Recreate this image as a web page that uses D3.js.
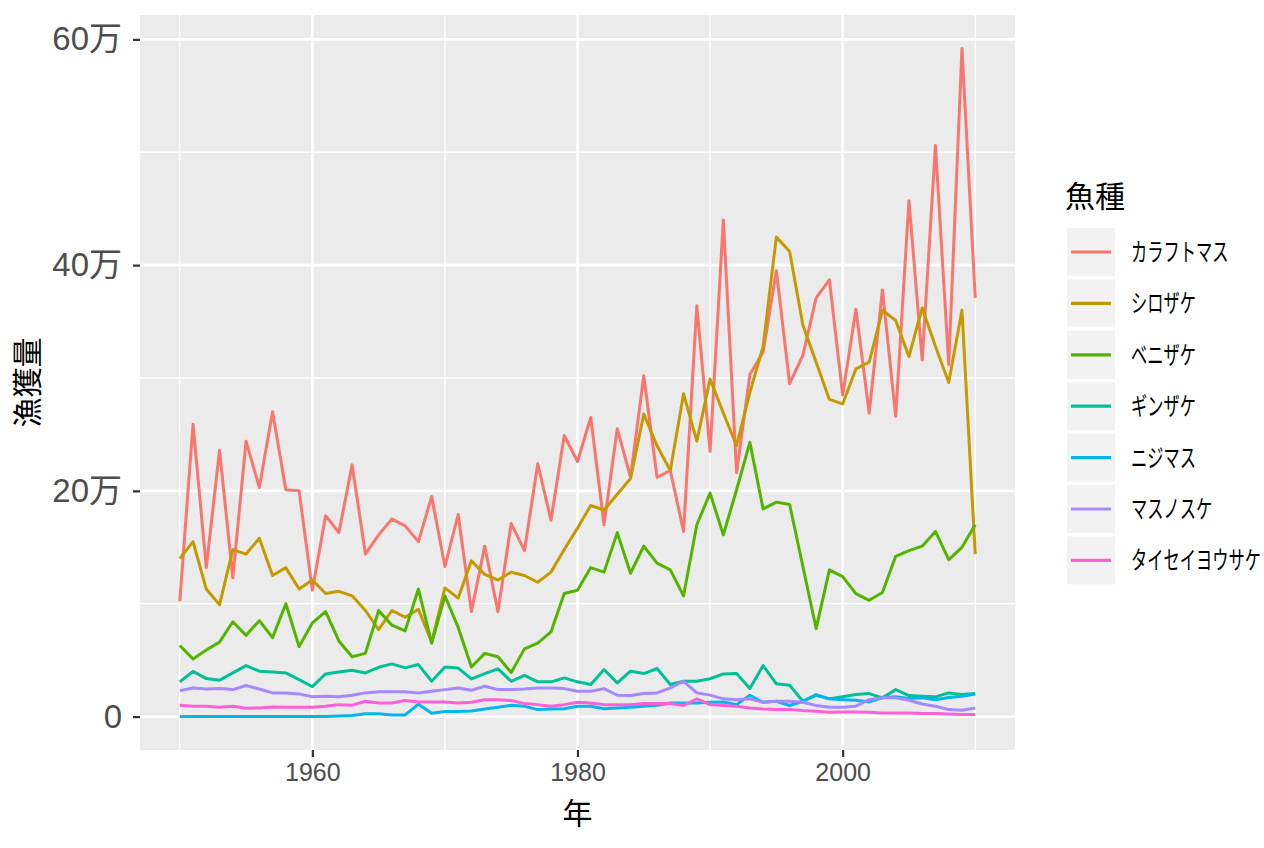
<!DOCTYPE html>
<html>
<head>
<meta charset="utf-8">
<script src="https://cdn.jsdelivr.net/npm/d3@7"></script>
<style>
  html, body { margin: 0; padding: 0; background: #fff; }
  svg { display: block; }
</style>
</head>
<body>
<svg id="chart"></svg>
<script>
// data (万尾), 1950-2010
const years = d3.range(1950, 2011);
const species = ['カラフトマス', 'シロザケ', 'ベニザケ', 'ギンザケ', 'ニジマス', 'マスノスケ', 'タイセイヨウサケ'];
const colors = ['#F8766D', '#C49A00', '#53B400', '#00C094', '#00B6EB', '#A58AFF', '#FB61D7'];

const karafuto = [
  10.2, 25.9, 13.2, 23.6, 12.3, 24.4, 20.3, 27.0, 20.1, 20.0,
  11.2, 17.8, 16.3, 22.3, 14.4, 16.1, 17.5, 16.9, 15.5, 19.5,
  13.3, 17.9, 9.3, 15.1, 9.3, 17.1, 14.7, 22.4, 17.4, 24.9,
  22.6, 26.5, 17.0, 25.5, 21.2, 30.2, 21.2, 21.8, 16.4, 36.4,
  23.5, 44.0, 21.6, 30.3, 32.3, 39.5, 29.5, 32.0, 37.1, 38.7,
  28.5, 36.1, 26.9, 37.8, 26.6, 45.7, 31.6, 50.6, 31.2, 59.2,
  37.1
];
const shirozake = [
  14.0, 15.5, 11.3, 9.9, 14.8, 14.4, 15.8, 12.5, 13.2, 11.3,
  12.1, 10.9, 11.1, 10.7, 9.4, 7.7, 9.4, 8.8, 9.5, 6.6,
  11.4, 10.5, 13.8, 12.6, 12.1, 12.8, 12.5, 11.9, 12.8, 14.8,
  16.7, 18.7, 18.3, 19.7, 21.1, 26.8, 24.0, 21.8, 28.6, 24.4,
  29.9, 26.9, 24.0, 28.7, 32.8, 42.5, 41.2, 34.7, 31.4, 28.1,
  27.7, 30.8, 31.4, 36.0, 35.1, 31.9, 36.2, 32.8, 29.6, 36.0,
  14.4
];
const benizake = [
  6.3, 5.1, 5.9, 6.6, 8.4, 7.2, 8.5, 7.0, 10.0, 6.2,
  8.3, 9.3, 6.7, 5.3, 5.6, 9.4, 8.1, 7.6, 11.3, 6.5,
  10.7, 7.9, 4.4, 5.6, 5.3, 3.9, 6.0, 6.5, 7.5, 10.9,
  11.2, 13.2, 12.8, 16.3, 12.7, 15.1, 13.6, 13.0, 10.7, 17.0,
  19.8, 16.1, 20.1, 24.3, 18.4, 19.0, 18.8, 13.3, 7.8, 13.0,
  12.4, 10.9, 10.3, 11.0, 14.2, 14.7, 15.1, 16.4, 13.9, 15.0,
  17.0
];
const ginzake = [
  3.08, 4.0, 3.37, 3.22, 3.87, 4.52, 4.02, 3.96, 3.87, 3.28,
  2.66, 3.78, 3.96, 4.11, 3.87, 4.37, 4.67, 4.32, 4.61, 3.13,
  4.4, 4.3, 3.34, 3.81, 4.23, 3.13, 3.66, 3.08, 3.08, 3.43,
  3.08, 2.84, 4.17, 2.99, 4.02, 3.81, 4.26, 2.84, 3.13, 3.13,
  3.35, 3.78, 3.81, 2.48, 4.52, 2.9, 2.78, 1.36, 1.95, 1.57,
  1.75, 1.95, 2.04, 1.66, 2.39, 1.86, 1.8, 1.75, 2.1, 1.95,
  2.04
];
const nijimasu = [
  0, 0, 0, 0, 0, 0, 0, 0, 0, 0,
  0, 0, 0.05, 0.1, 0.25, 0.25, 0.15, 0.15, 1.1, 0.3,
  0.45, 0.45, 0.5, 0.68, 0.83, 1.0, 0.92, 0.62, 0.68, 0.7,
  0.92, 0.92, 0.7, 0.77, 0.83, 0.92, 1.0, 1.21, 1.21, 1.2,
  1.27, 1.3, 1.06, 1.89, 1.27, 1.36, 0.98, 1.36, 1.89, 1.57,
  1.5, 1.45, 1.3, 1.66, 1.75, 1.6, 1.66, 1.5, 1.7, 1.8,
  2.0
];
const masunosuke = [
  2.3, 2.54, 2.45, 2.48, 2.39, 2.75, 2.45, 2.1, 2.1, 2.01,
  1.75, 1.8, 1.75, 1.89, 2.1, 2.2, 2.2, 2.2, 2.1, 2.25,
  2.39, 2.54, 2.33, 2.69, 2.39, 2.39, 2.45, 2.54, 2.54, 2.48,
  2.25, 2.25, 2.48, 1.89, 1.86, 2.04, 2.1, 2.54, 3.13, 2.1,
  1.9, 1.57, 1.5, 1.57, 1.27, 1.36, 1.36, 1.27, 0.98, 0.83,
  0.83, 0.92, 1.5, 1.66, 1.66, 1.45, 1.12, 0.92, 0.62, 0.56,
  0.77
];
const taiseiyou = [
  1.0, 0.92, 0.92, 0.83, 0.92, 0.74, 0.77, 0.86, 0.83, 0.83,
  0.83, 0.92, 1.06, 1.0, 1.36, 1.21, 1.21, 1.42, 1.3, 1.3,
  1.3, 1.21, 1.27, 1.5, 1.5, 1.42, 1.15, 1.06, 0.92, 1.06,
  1.27, 1.21, 1.06, 1.06, 1.06, 1.15, 1.15, 1.15, 0.98, 1.57,
  1.06, 0.98, 0.92, 0.77, 0.68, 0.62, 0.62, 0.53, 0.47, 0.38,
  0.41, 0.41, 0.38, 0.32, 0.32, 0.32, 0.27, 0.27, 0.24, 0.18,
  0.18
];

const yTicks = [0, 20, 40, 60];
const yMinor = [10, 30, 50];
const xTicks = [1960, 1980, 2000];
const xMinor = [1950, 1970, 1990, 2010];

const series = [karafuto, shirozake, benizake, ginzake, nijimasu, masunosuke, taiseiyou]
  .map((vals, i) => ({ name: species[i], color: colors[i], values: vals.map((v, j) => ({ year: years[j], value: v })) }));

// build
const width = 1264;
const height = 848;
const panel = { left: 140, right: 1015, top: 15, bottom: 750 };
const jpFont = '"Noto Sans CJK JP", "Noto Sans", sans-serif';
const numFont = '"Liberation Sans", Arial, sans-serif';

const svg = d3.select('#chart')
  .attr('width', width)
  .attr('height', height);

// ggplot style 5% expansion
const xExt = d3.extent(years);
const xPad = (xExt[1] - xExt[0]) * 0.05;
const allVals = series.flatMap(s => s.values.map(d => d.value));
const yExt = d3.extent(allVals);
const yPad = (yExt[1] - yExt[0]) * 0.05;

const x = d3.scaleLinear()
  .domain([xExt[0] - xPad, xExt[1] + xPad])
  .range([panel.left, panel.right]);
const y = d3.scaleLinear()
  .domain([yExt[0] - yPad, yExt[1] + yPad])
  .range([panel.bottom, panel.top]);

svg.append('rect')
  .attr('x', panel.left).attr('y', panel.top)
  .attr('width', panel.right - panel.left)
  .attr('height', panel.bottom - panel.top)
  .attr('fill', '#EBEBEB');

// grid
const grid = svg.append('g').attr('stroke', '#fff');
grid.selectAll('.ymin').data(yMinor).enter().append('line')
  .attr('x1', panel.left).attr('x2', panel.right)
  .attr('y1', d => y(d)).attr('y2', d => y(d))
  .attr('stroke-width', 1.3);
grid.selectAll('.xmin').data(xMinor).enter().append('line')
  .attr('y1', panel.top).attr('y2', panel.bottom)
  .attr('x1', d => x(d)).attr('x2', d => x(d))
  .attr('stroke-width', 1.3);
grid.selectAll('.ymaj').data(yTicks).enter().append('line')
  .attr('x1', panel.left).attr('x2', panel.right)
  .attr('y1', d => y(d)).attr('y2', d => y(d))
  .attr('stroke-width', 2.6);
grid.selectAll('.xmaj').data(xTicks).enter().append('line')
  .attr('y1', panel.top).attr('y2', panel.bottom)
  .attr('x1', d => x(d)).attr('x2', d => x(d))
  .attr('stroke-width', 2.6);

// lines
const line = d3.line()
  .x(d => x(d.year))
  .y(d => y(d.value));

svg.append('g')
  .selectAll('path')
  .data(series)
  .enter()
  .append('path')
  .attr('d', s => line(s.values))
  .attr('fill', 'none')
  .attr('stroke', s => s.color)
  .attr('stroke-width', 3)
  .attr('stroke-linejoin', 'round');

// axes
const yAxis = svg.append('g')
  .attr('transform', `translate(${panel.left},0)`)
  .call(d3.axisLeft(y).tickValues(yTicks).tickSize(7).tickPadding(11)
    .tickFormat(d => d === 0 ? '0' : `${d}万`));
yAxis.select('.domain').remove();
yAxis.selectAll('line').attr('stroke', '#333').attr('stroke-width', 2.2);
yAxis.selectAll('text')
  .attr('fill', '#4D4D4D')
  .style('font-family', `${numFont.split(',')[0]}, ${jpFont}`)
  .style('font-size', '33px');

const xAxis = svg.append('g')
  .attr('transform', `translate(0,${panel.bottom})`)
  .call(d3.axisBottom(x).tickValues(xTicks).tickSize(7).tickPadding(6)
    .tickFormat(d3.format('d')));
xAxis.select('.domain').remove();
xAxis.selectAll('line').attr('stroke', '#333').attr('stroke-width', 2.2);
xAxis.selectAll('text')
  .attr('fill', '#4D4D4D')
  .style('font-family', numFont)
  .style('font-size', '25px');

// axis titles
svg.append('text')
  .attr('x', (panel.left + panel.right) / 2)
  .attr('y', 824)
  .attr('text-anchor', 'middle')
  .style('font-family', jpFont)
  .style('font-size', '30px')
  .text('年');

svg.append('text')
  .attr('transform', `translate(38,${(panel.top + panel.bottom) / 2}) rotate(-90)`)
  .attr('text-anchor', 'middle')
  .style('font-family', jpFont)
  .style('font-size', '30px')
  .text('漁獲量');

// legend
const legend = svg.append('g').attr('transform', 'translate(1067,0)');
legend.append('text')
  .attr('x', -2).attr('y', 207)
  .style('font-family', jpFont)
  .style('font-size', '30px')
  .text('魚種');

const keySize = 48;
const keyStep = 51.4;
const item = legend.selectAll('.item')
  .data(series)
  .enter()
  .append('g')
  .attr('transform', (s, i) => `translate(0,${228 + i * keyStep})`);
item.append('rect')
  .attr('width', keySize).attr('height', keySize)
  .attr('fill', '#F2F2F2');
item.append('line')
  .attr('x1', 4).attr('x2', keySize - 4)
  .attr('y1', keySize / 2).attr('y2', keySize / 2)
  .attr('stroke', s => s.color)
  .attr('stroke-width', 3.2);
item.append('text')
  .attr('transform', `translate(64,${keySize / 2 + 9}) scale(0.65,1)`)
  .style('font-family', jpFont)
  .style('font-size', '25px')
  .text(s => s.name);
</script>
</body>
</html>
